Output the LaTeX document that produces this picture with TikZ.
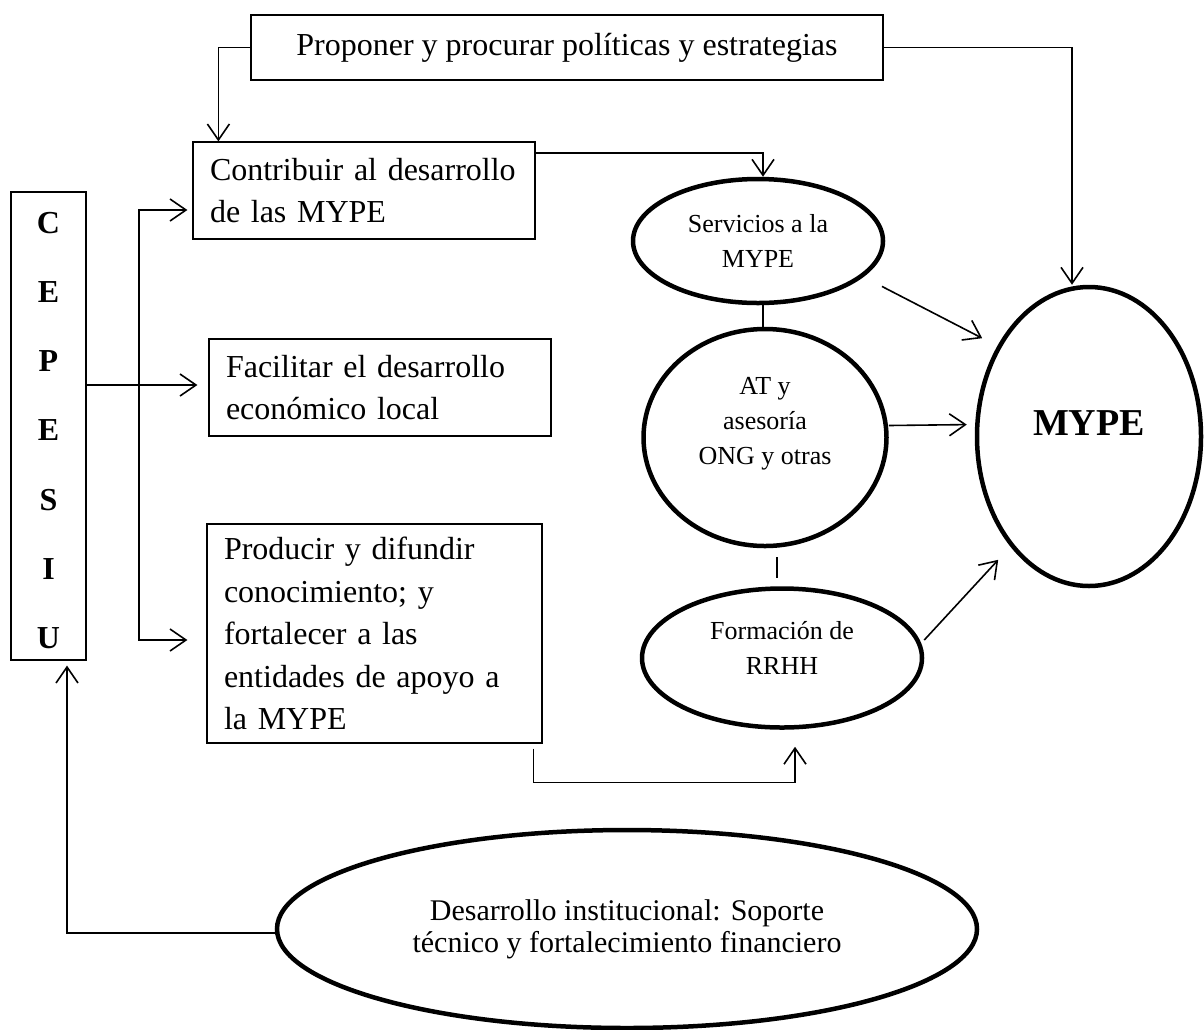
\documentclass[tikz,border=0pt]{standalone}
\usepackage{fontspec}
\setmainfont{Liberation Serif}
\usetikzlibrary{arrows.meta, shapes.geometric}
\hyphenpenalty=10000
\exhyphenpenalty=10000

\begin{document}
\begin{tikzpicture}[
    x=1pt, y=-1pt,
    goal/.style={
        draw, rectangle, line width=1.2pt, align=left, inner xsep=17pt, inner ysep=4pt,
        font=\fontsize{32}{42.5}\selectfont
    },
    blob/.style={
        draw, ellipse, line width=4.5pt, inner sep=0pt, align=center,
        font=\fontsize{26}{35}\selectfont
    },
    arr/.style={
        -{Straight Barb[length=16pt,width=22pt]}, line width=1.6pt
    },
    link/.style={
        line width=1.6pt
    }
]
    \useasboundingbox (0,0) rectangle (1204,1029);

    % boxes
    \node[goal, align=center, minimum width=632pt, minimum height=65pt](prop) at (567,47.5) {Proponer y procurar políticas y estrategias};
    \node[goal, text width=308pt, minimum height=97pt](contrib) at (364,190.5) {Contribuir al desarrollo\\de las MYPE};
    \node[goal, text width=308pt, minimum height=97pt](facil) at (380,387.5) {Facilitar el desarrollo\\económico local};
    \node[goal, text width=301pt, minimum height=219pt](prod) at (374.5,633.5) {Producir y difundir\\conocimiento; y\\fortalecer a las\\entidades de apoyo a\\la MYPE};
    \node[goal, align=center, text width=41pt, minimum height=468pt, font=\fontsize{32}{69.2}\selectfont\bfseries](cep) at (48.5,426) {\rule{0pt}{30pt}C\\E\\P\\E\\S\\I\\U};

    % ellipses
    \node[blob, minimum width=250pt, minimum height=124pt](serv) at (758,241) {Servicios a la\\MYPE};
    \node[blob, minimum width=243pt, minimum height=217pt, text depth=34pt](asesor) at (765,437.5) {AT y\\asesoría\\ONG y otras};
    \node[blob, minimum width=280pt, minimum height=139pt, text depth=21pt](form) at (782,658) {Formación de\\RRHH};
    \node[blob, minimum width=224pt, minimum height=299pt, text depth=27pt, font=\fontsize{38}{44}\selectfont\bfseries](mype) at (1089,436.5) {MYPE};
    \node[blob, minimum width=700pt, minimum height=198pt, font=\fontsize{30}{32}\selectfont](inst) at (627,929) {Desarrollo institucional: Soporte\\técnico y fortalecimiento financiero};

    \coordinate (bus) at (139,425);

    \draw[arr] (prop.west) -| ([xshift=26pt]contrib.north west);
    \draw[arr] (prop.east) -| ([xshift=-17pt]mype.north);
    \draw[arr] ([yshift=37.5pt]contrib.east) -| ([xshift=5pt]serv.north);

    \draw[link] ([xshift=5pt]serv.south) -- ([xshift=-2pt]asesor.north);
    \draw[link, shorten <=9pt, shorten >=8pt] ([xshift=12pt]asesor.south) -- ([xshift=-5pt]form.north);

    \draw[arr] ([xshift=34pt]serv.south east) -- ([xshift=-26pt,yshift=-9pt]mype.north west);
    \draw[arr, shorten >=8pt] ([yshift=12pt]asesor.east) -- ([yshift=12pt]mype.west);
    \draw[arr] ([yshift=18pt]form.east) -- ([xshift=-10pt,yshift=-16pt]mype.south west);
    \draw[arr] ([xshift=-9pt,yshift=-5pt]prod.south east) -- ++(0,34) -| ([xshift=13pt,yshift=-17pt]form.south);

    \draw[arr, shorten >=11pt] ([yshift=41pt]cep.east) -- ([yshift=41pt]cep.east -| facil.west);
    \draw[arr, shorten >=5pt] (bus) |- ([yshift=-19.5pt]contrib.west);
    \draw[arr, shorten >=19pt] (bus) |- ([yshift=-6.5pt]prod.west);
    \draw[arr, shorten >=5pt] ([yshift=-4pt]inst.west) -| ([xshift=18.5pt]cep.south);

\end{tikzpicture}
\end{document}
